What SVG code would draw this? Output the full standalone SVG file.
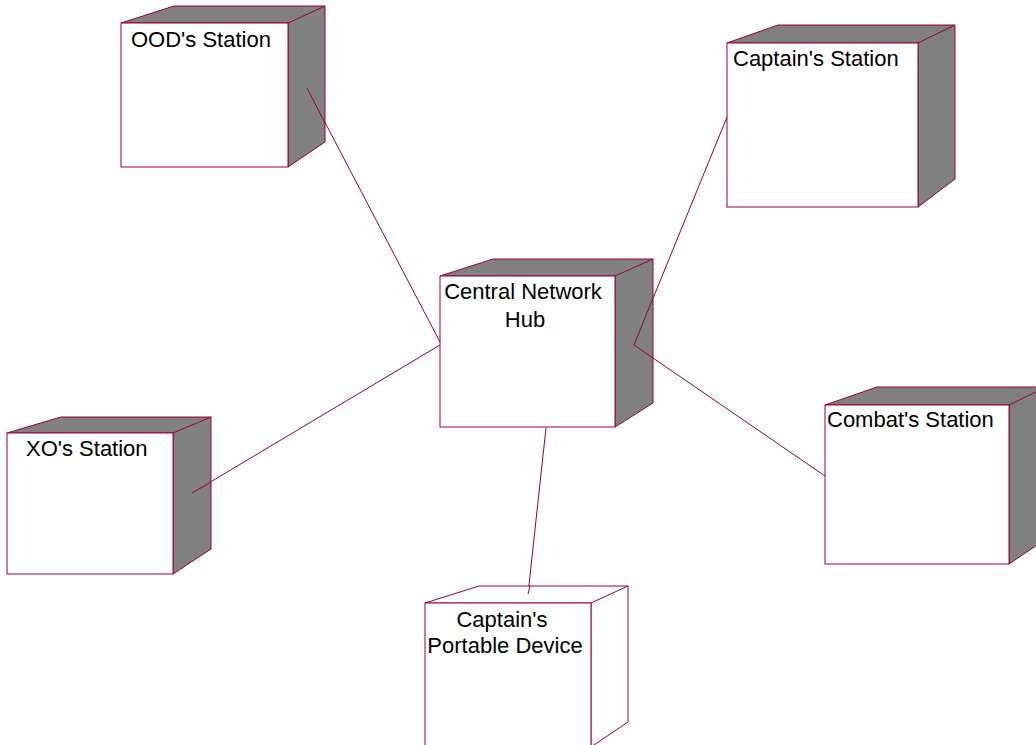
<svg xmlns="http://www.w3.org/2000/svg" width="1036" height="745" viewBox="0 0 1036 745">
<style>
.front{fill:#ffffff;stroke:#990033;stroke-width:1}
.side{fill:#808080;stroke:#990033;stroke-width:1}
.open{fill:#ffffff;stroke:#990033;stroke-width:1}
.lbl{font-family:"Liberation Sans",Arial,sans-serif;font-size:22px;fill:#000}
.conn{stroke:#990033;stroke-width:1;fill:none}
</style>
<rect width="1036" height="745" fill="#ffffff"/>
<g id="connectors">
<line class="conn" x1="307" y1="88" x2="440" y2="342"/>
<line class="conn" x1="727" y1="117" x2="634" y2="345"/>
<line class="conn" x1="634" y1="345" x2="825" y2="476"/>
<line class="conn" x1="192" y1="493" x2="440" y2="345"/>
<line class="conn" x1="546" y1="428" x2="528" y2="594"/>
</g>
<g id="ood">
<polygon class="side" points="121,23 174,6 325,6 325,142 288,167 288,23"/>
<line class="conn" x1="288" y1="23" x2="325" y2="6"/>
<rect class="front" x="121" y="23" width="167" height="144"/>
<line class="conn" x1="307" y1="88" x2="325" y2="123"/>
<text class="lbl" x="131" y="47">OOD's Station</text>
</g>
<g id="captain">
<polygon class="side" points="727,43 778,25 955,25 955,179 918,207 918,43"/>
<line class="conn" x1="918" y1="43" x2="955" y2="25"/>
<rect class="front" x="727" y="43" width="191" height="164"/>
<text class="lbl" x="733" y="66">Captain's Station</text>
</g>
<g id="hub">
<polygon class="side" points="440,276 493,259 653,259 653,403 615,427 615,276"/>
<line class="conn" x1="615" y1="276" x2="653" y2="259"/>
<rect class="front" x="440" y="276" width="175" height="151"/>
<line class="conn" x1="634" y1="345" x2="653" y2="298"/>
<line class="conn" x1="634" y1="345" x2="653" y2="358"/>
<text class="lbl" x="523" y="299" text-anchor="middle">Central Network</text>
<text class="lbl" x="525" y="327" text-anchor="middle">Hub</text>
</g>
<g id="xo">
<polygon class="side" points="7,433 61,417 211,417 211,549 173,574 173,433"/>
<line class="conn" x1="173" y1="433" x2="211" y2="417"/>
<rect class="front" x="7" y="433" width="166" height="141"/>
<line class="conn" x1="192" y1="493" x2="211" y2="482"/>
<text class="lbl" x="26" y="456">XO's Station</text>
</g>
<g id="combat">
<polygon class="side" points="825,405 877,387 1046,387 1046,539 1009,564 1009,405"/>
<line class="conn" x1="1009" y1="405" x2="1046" y2="387"/>
<rect class="front" x="825" y="405" width="184" height="159"/>
<text class="lbl" x="827" y="427">Combat's Station</text>
</g>
<g id="portable">
<polygon class="open" points="425,603 479,586 628,586 628,722 591,747 591,603"/>
<line class="conn" x1="591" y1="603" x2="628" y2="586"/>
<rect class="front" x="425" y="603" width="166" height="160"/>
<line class="conn" x1="530" y1="586" x2="528" y2="594"/>
<text class="lbl" x="502" y="627" text-anchor="middle">Captain's</text>
<text class="lbl" x="505" y="653" text-anchor="middle">Portable Device</text>
</g>
</svg>
